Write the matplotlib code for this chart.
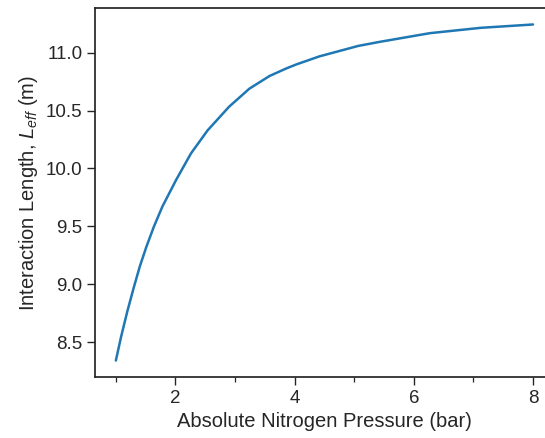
import numpy as np
import matplotlib
matplotlib.use("Agg")
import matplotlib.pyplot as plt
import seaborn as sns
from matplotlib.ticker import MultipleLocator

# Values
pressure = [1.00, 1.09, 1.19, 1.30, 1.40, 1.51, 1.64, 1.78, 2.01, 2.26,
            2.54, 2.90, 3.24, 3.58, 3.86, 4.03, 4.42, 5.07, 5.43, 6.27,
            7.12, 8.00]
length_eff = [8.34, 8.55, 8.76, 8.97, 9.15, 9.32, 9.50, 9.67, 9.90, 10.13,
              10.33, 10.534, 10.69, 10.80, 10.865, 10.90, 10.97, 11.06, 11.095, 11.17,
              11.216, 11.245]

sns.set_theme(style="ticks")
plt.rcParams['font.family'] = ['Liberation Sans', 'DejaVu Sans']
plt.rcParams['mathtext.fontset'] = 'custom'
plt.rcParams['mathtext.it'] = 'Liberation Sans:italic'
plt.rcParams['mathtext.rm'] = 'Liberation Sans'

fig = plt.figure(figsize=(5.45, 4.38), dpi=100)
ax = fig.add_axes([0.1743, 0.1386, 0.842, 0.8438])

ax.plot(pressure, length_eff, color='#1f77b4', lw=1.8)

ax.set_xlim(0.65, 8.35)
ax.set_ylim(8.195, 11.39)
ax.xaxis.set_major_locator(MultipleLocator(2))
ax.xaxis.set_minor_locator(MultipleLocator(1))
ax.yaxis.set_major_locator(MultipleLocator(0.5))
ax.tick_params(axis='both', which='major', labelsize=13.5, length=5.5, width=1, color='.15')
ax.tick_params(axis='x', which='minor', length=3.5, width=0.9, color='.15')

ax.set_xlabel("Absolute Nitrogen Pressure (bar)", fontsize=14.5)
ax.set_ylabel("Interaction Length, $L_{eff}$ (m)", fontsize=14.5)

fig.savefig("out.png", dpi=100)
